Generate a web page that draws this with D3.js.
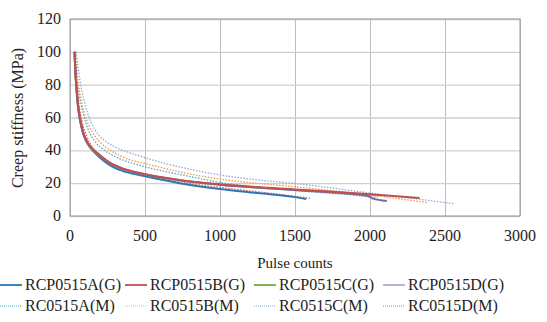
<!DOCTYPE html>
<html>
<head>
<meta charset="utf-8">
<script src="https://cdn.jsdelivr.net/npm/d3@7"></script>
<style>
  body { margin: 0; background: #fff; }
  text { font-family: "Liberation Serif", "Times New Roman", "DejaVu Serif", serif; }
</style>
</head>
<body>
<div id="chart"></div>
<script>
// series names, colours and dash style
var seriesNames = ["RCP0515A(G)", "RCP0515B(G)", "RCP0515C(G)", "RCP0515D(G)",
                   "RC0515A(M)", "RC0515B(M)", "RC0515C(M)", "RC0515D(M)"]
var seriesColors = ["#2e75b6", "#c0504d", "#9bbb59", "#8064a2",
                    "#4bacc6", "#f79646", "#8eaadb", "#e06666"]
var legendColors = ["#2e75b6", "#c0504d", "#70ad47", "#b4a7d6",
                    "#4bacc6", "#f4b183", "#8eaadb", "#e06666"]
var dotted = [false, false, false, false, true, true, true, true]

var xTicks = [0, 500, 1000, 1500, 2000, 2500, 3000]
var yTicks = [0, 20, 40, 60, 80, 100, 120]

// [pulse count, creep stiffness]
var rcp0515A = [[30,100],[36,87],[42,79],[50,69],[65,59],[90,49.5],[120,43.5],[155,39.5],[200,35.5],[265,31],[350,27.5],[487,24.5],[730,20],[1000,16.5],[1250,14],[1500,11.5],[1575,10.3]]
var rcp0515B = [[30,100],[36,88],[42,80],[50,71],[65,60.5],[90,50.5],[120,44.5],[155,40.5],[200,37],[265,32.5],[350,29],[487,25.8],[730,22],[1000,19.3],[1500,16.2],[2000,13.3],[2330,11]]
var rcp0515C = [[30,100],[36,87.5],[42,79.5],[50,70.5],[65,60],[90,50],[120,44],[155,40],[200,36.5],[265,32],[350,28.7],[487,25.5],[730,21.7],[1000,19],[1500,15.9],[2000,12.9],[2060,12.4]]
var rcp0515D = [[30,100],[36,87.5],[42,79.5],[50,70.5],[65,60],[90,50],[120,44],[155,40.2],[200,36.7],[265,32.2],[350,28.8],[487,25.6],[730,21.8],[1000,19.1],[1500,15.8],[1980,12.4],[2020,10.6],[2112,9.2]]
var rc0515A = [[35,100],[45,85],[60,75],[87,63],[120,53],[170,45],[230,40],[330,35],[500,30],[750,25],[1000,20.5],[1500,15.5],[2000,11.6],[2050,11]]
var rc0515B = [[38,100],[50,85],[65,75],[80,68],[105,60],[150,51],[200,45],[270,40],[377,35],[500,32],[750,26.5],[1000,22.5],[1500,17.8],[2000,12.8],[2385,8.1]]
var rc0515C = [[40,100],[55,90],[71,80],[95,70],[127,60],[170,52],[230,46],[300,42],[400,38.5],[500,35.5],[750,29.5],[1000,25],[1250,22],[1500,19.8],[2000,14],[2560,7.5]]
var rc0515D = [[32,100],[45,82],[60,68],[80,58],[110,49],[150,42],[200,37],[300,31],[500,25],[750,20.5],[1000,17.5],[1500,12],[1600,10.8]]

var allSeries = [rcp0515A, rcp0515B, rcp0515C, rcp0515D, rc0515A, rc0515B, rc0515C, rc0515D]

function draw() {
  var W = 547, H = 322
  var pl = 70, pr = 520, pt = 19, pb = 216

  var svg = d3.select("#chart").append("svg").attr("width", W).attr("height", H)

  var xs = d3.scaleLinear().domain([0, 3000]).range([pl, pr])
  var ys = d3.scaleLinear().domain([0, 120]).range([pb, pt])

  // grid
  svg.append("g")
    .attr("transform", "translate(0," + pb + ")")
    .call(d3.axisBottom(xs).tickValues(xTicks).tickSize(-(pb - pt)).tickFormat(""))
    .call(g => g.select(".domain").remove())
    .selectAll("line").attr("stroke", "#bdbdbd")
  svg.append("g")
    .attr("transform", "translate(" + pl + ",0)")
    .call(d3.axisLeft(ys).tickValues(yTicks).tickSize(-(pr - pl)).tickFormat(""))
    .call(g => g.select(".domain").remove())
    .selectAll("line").attr("stroke", "#cfcfcf").attr("stroke-width", 1.3)

  svg.append("rect")
    .attr("x", pl).attr("y", pt).attr("width", pr - pl).attr("height", pb - pt)
    .attr("fill", "none").attr("stroke", "#9a9a9a")

  // tick labels
  svg.append("g").selectAll("text").data(yTicks).enter().append("text")
    .attr("x", pl - 9).attr("y", d => ys(d) + 5)
    .attr("text-anchor", "end").style("font-size", "16px").attr("fill", "#222")
    .text(d => d)
  svg.append("g").selectAll("text").data(xTicks).enter().append("text")
    .attr("x", d => xs(d)).attr("y", pb + 25)
    .attr("text-anchor", "middle").style("font-size", "16px").attr("fill", "#222")
    .text(d => d)

  // axis titles
  svg.append("text").attr("x", 295).attr("y", 268)
    .attr("text-anchor", "middle").style("font-size", "15px").attr("fill", "#222").text("Pulse counts")
  svg.append("text").attr("transform", "translate(23,118) rotate(-90)")
    .attr("text-anchor", "middle").style("font-size", "16px").attr("fill", "#222").text("Creep stiffness (MPa)")

  // lines
  var line = d3.line().x(d => xs(d[0])).y(d => ys(d[1])).curve(d3.curveMonotoneX)
  var order = [4, 5, 6, 7, 0, 2, 3, 1]
  order.forEach(function (i) {
    svg.append("path")
      .datum(allSeries[i])
      .attr("d", line)
      .attr("fill", "none")
      .attr("stroke", seriesColors[i])
      .attr("stroke-width", dotted[i] ? 1.3 : 2)
      .attr("stroke-dasharray", dotted[i] ? "1.5,1.5" : null)
  })

  // legend
  var colX = [0, 125, 254, 383]
  var rowY = [290, 311]
  seriesNames.forEach(function (name, i) {
    var r = Math.floor(i / 4), c = i % 4
    var g = svg.append("g").attr("transform", "translate(" + colX[c] + "," + rowY[r] + ")")
    g.append("line").attr("x1", 0).attr("x2", 22).attr("y1", -5).attr("y2", -5)
      .attr("stroke", legendColors[i]).attr("stroke-width", dotted[i] ? 1.2 : 1.8)
      .attr("stroke-dasharray", dotted[i] ? "1,1" : null)
    g.append("text").attr("x", 25).attr("y", 0).style("font-size", "16px").attr("fill", "#222").text(name)
  })
}
draw()
</script>
</body>
</html>
